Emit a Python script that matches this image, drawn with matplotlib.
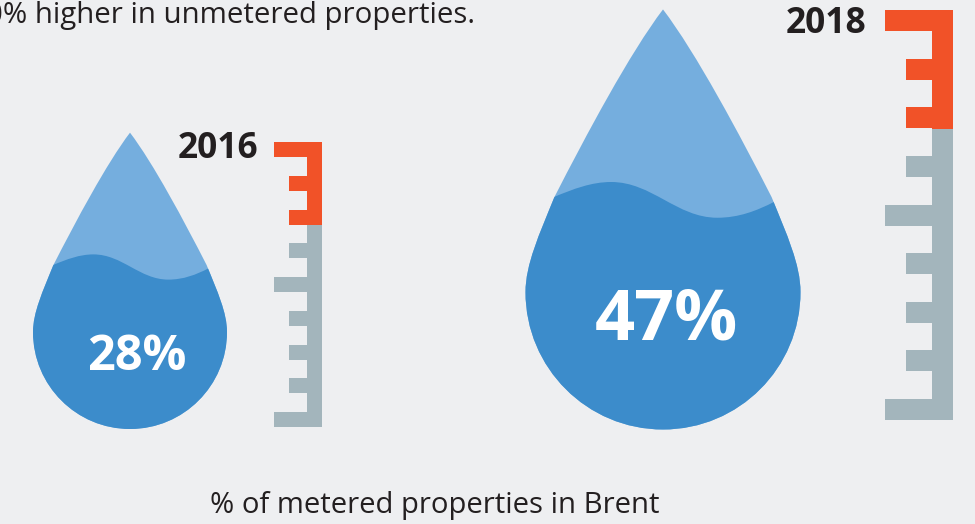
import matplotlib
matplotlib.use("Agg")
import matplotlib.pyplot as plt
from matplotlib.patches import PathPatch, Rectangle
from matplotlib.path import Path

plt.rcParams['font.family'] = ['Open Sans', 'DejaVu Sans']

years = ['2016', '2018']
metered = [28, 47]
# ruler has 9 ticks, long ones at top, middle and bottom
tick_lengths = [1, 0, 0, 0, 1, 0, 0, 0, 1]
ruler_filled = [0.29, 0.29]

BG = '#EEEFF1'
DARK = '#3C8CCB'
LIGHT = '#75AEDE'
ORANGE = '#F15228'
GREY = '#A3B5BC'
INK = '#231F20'

K = 0.5523
TIP = 2.055


def drop_path(cx, cy, r):
    verts = [(0, TIP),
             (-0.24, 1.74), (-0.56, 1.14), (-0.79, 0.69),
             (-0.90, 0.42), (-1, 0.2), (-1, 0),
             (-1, -K), (-K, -1), (0, -1),
             (K, -1), (1, -K), (1, 0),
             (1, 0.2), (0.90, 0.42), (0.79, 0.69),
             (0.56, 1.14), (0.24, 1.74), (0, TIP)]
    codes = [Path.MOVETO] + [Path.CURVE4] * 18
    return Path([(cx + x * r, cy - y * r) for x, y in verts], codes)


def water_path(cx, cy, r):
    verts = [(-1.3, 0.69), (-0.795, 0.69),
             (-0.65, 0.75), (-0.52, 0.80), (-0.377, 0.80),
             (-0.08, 0.80), (0.10, 0.54), (0.395, 0.54),
             (0.55, 0.54), (0.68, 0.59), (0.807, 0.655),
             (1.3, 0.655), (1.3, -1.3), (-1.3, -1.3), (-1.3, 0.69)]
    codes = [Path.MOVETO, Path.LINETO] + [Path.CURVE4] * 9 + [Path.LINETO] * 4
    return Path([(cx + x * r, cy - y * r) for x, y in verts], codes)


def draw_drop(ax, cx, cy, r, label, size, label_x, label_y):
    outline = PathPatch(drop_path(cx, cy, r), fc=LIGHT, ec='none')
    ax.add_patch(outline)
    water = PathPatch(water_path(cx, cy, r), fc=DARK, ec='none')
    ax.add_patch(water)
    water.set_clip_path(outline)
    ax.text(label_x, label_y, label, color='white', fontsize=size,
            fontweight='bold', ha='center', va='baseline')


def draw_ruler(ax, left, right, top, bottom, spine_w, tick_h, filled):
    # ticks run from left edge (long) or partway there (short)
    span = right - left
    step = (bottom - top - tick_h) / (len(tick_lengths) - 1)
    split = top + (bottom - top) * filled
    ax.add_patch(Rectangle((right - spine_w, top), spine_w, bottom - top, fc=GREY, ec='none'))
    ax.add_patch(Rectangle((right - spine_w, top), spine_w, split - top, fc=ORANGE, ec='none'))
    for i, long_tick in enumerate(tick_lengths):
        y = top + i * step
        x0 = left if long_tick else left + span * 0.31
        colour = ORANGE if y < split else GREY
        ax.add_patch(Rectangle((x0, y), right - spine_w - x0, tick_h, fc=colour, ec='none'))


fig = plt.figure(figsize=(9.75, 5.24), dpi=100, facecolor=BG)
ax = fig.add_axes([0, 0, 1, 1])
ax.set_xlim(0, 975)
ax.set_ylim(524, 0)
ax.axis('off')

draw_drop(ax, 130, 332, 97, f'{metered[0]}%', 35, 137, 370)
draw_drop(ax, 663, 292, 137.5, f'{metered[1]}%', 50.5, 666.5, 339)

draw_ruler(ax, 274, 322, 142, 427, 15, 15, ruler_filled[0])
draw_ruler(ax, 885, 953, 10, 420, 21, 21, ruler_filled[1])

ax.text(258, 158, years[0], color=INK, fontsize=25.5, fontweight='bold', ha='right', va='baseline')
ax.text(866, 33, years[1], color=INK, fontsize=25.5, fontweight='bold', ha='right', va='baseline')

# sentence runs off the left edge of the figure
ax.text(475, 23, '0% higher in unmetered properties.', color=INK, fontsize=21.15, ha='right', va='baseline')
ax.text(435, 513, '% of metered properties in Brent', color=INK, fontsize=21.1, ha='center', va='baseline')

fig.savefig('out.png', dpi=100, facecolor=BG)
